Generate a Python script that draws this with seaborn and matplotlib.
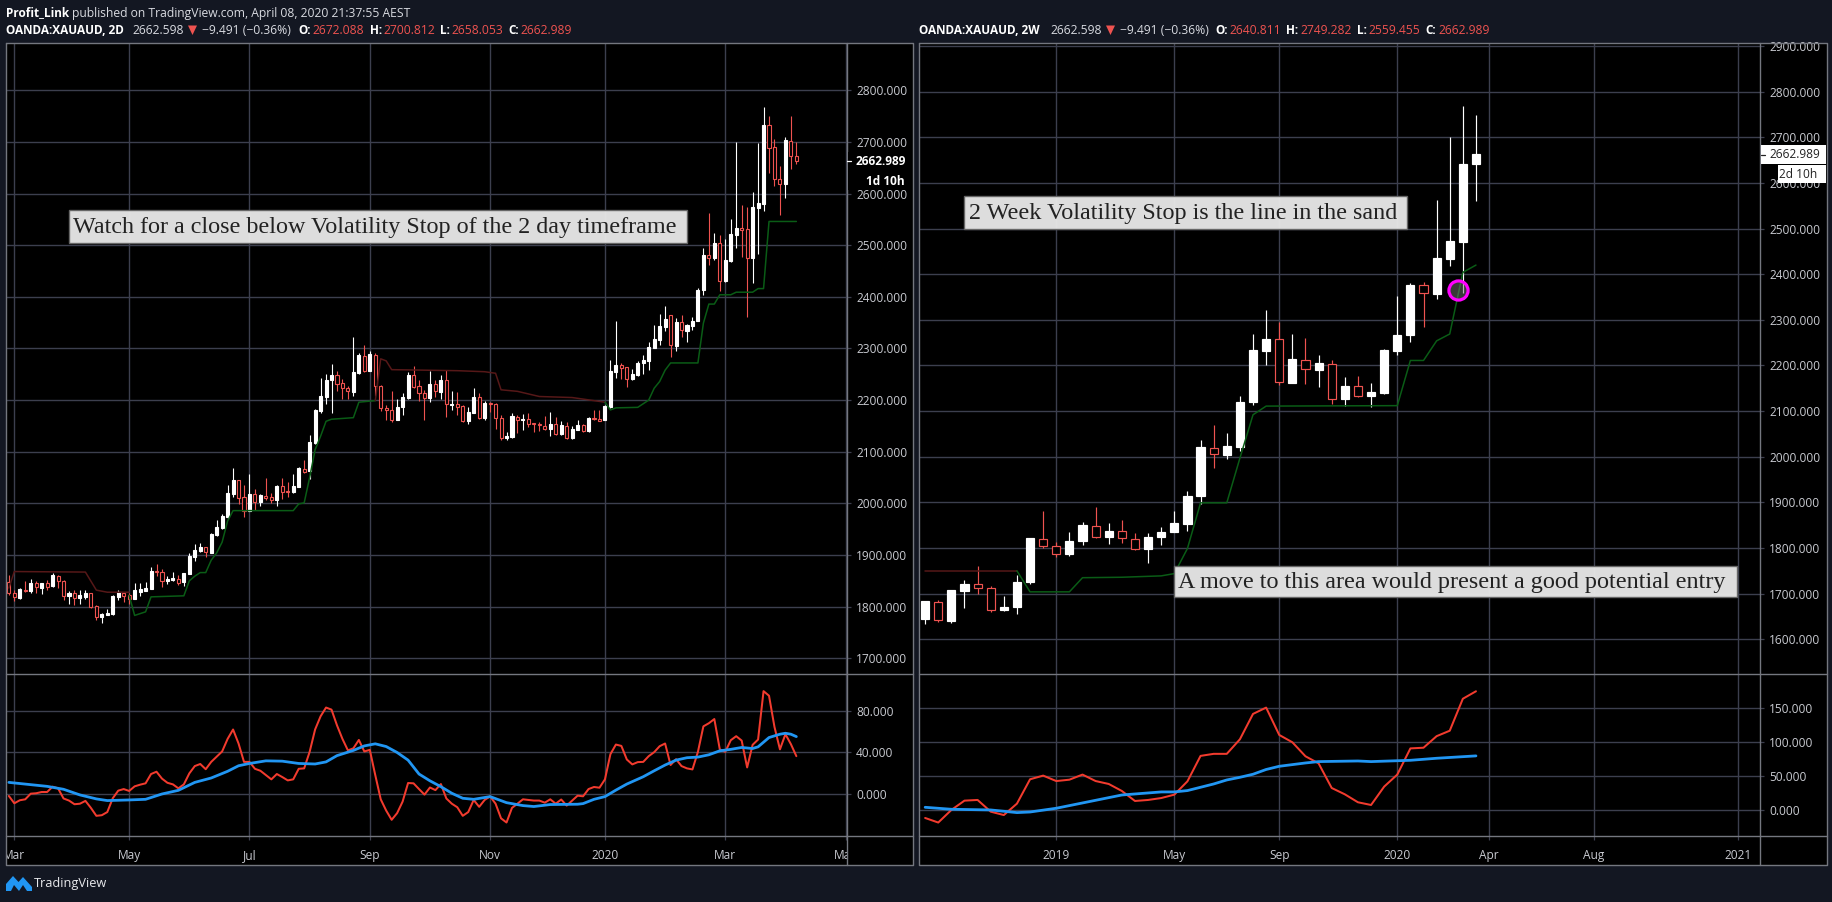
import matplotlib
matplotlib.use("Agg")
import matplotlib.pyplot as plt
import seaborn as sns
from matplotlib.lines import Line2D
from matplotlib.patches import Rectangle, Polygon
from matplotlib.transforms import Affine2D, Bbox

W, H = 1833, 902

BG = "#131722"
GRID = "#3c3f4e"
BORDER = "#74777f"
AXIS_TEXT = "#c8cad0"
RED = "#ef5350"
WHITE = "#ffffff"
STOP_UP = "#0a5c16"
STOP_DOWN = "#561818"
OSC_RED = "#f23b2e"
OSC_BLUE = "#2196f3"

# 2D candles
d_open = [1848, 1827, 1817, 1832, 1830, 1846, 1837, 1845, 1840, 1860, 1850, 1821, 1827, 1817, 1819, 1826, 1801, 1780, 1784, 1785,
          1819, 1826, 1822, 1814, 1829, 1831, 1835, 1869, 1868, 1849, 1851, 1854, 1848, 1863, 1897, 1908, 1915, 1904, 1939, 1953,
          1974, 2018, 2045, 2012, 1986, 2018, 2003, 2015, 2012, 2006, 2034, 2024, 2022, 2032, 2067, 2062, 2117, 2179, 2207, 2238,
          2248, 2233, 2223, 2215, 2252, 2286, 2257, 2288, 2228, 2185, 2181, 2162, 2186, 2205, 2248, 2228, 2213, 2205, 2232, 2216,
          2238, 2191, 2192, 2188, 2159, 2175, 2206, 2165, 2195, 2193, 2165, 2126, 2128, 2168, 2162, 2163, 2155, 2154, 2150, 2145,
          2154, 2134, 2150, 2126, 2143, 2152, 2141, 2165, 2163, 2161, 2186, 2254, 2268, 2264, 2240, 2249, 2271, 2276, 2301, 2316,
          2342, 2364, 2305, 2352, 2333, 2344, 2353, 2413, 2481, 2475, 2504, 2430, 2470, 2519, 2533, 2532, 2476, 2572, 2580, 2732,
          2690, 2629, 2618, 2702, 2672.088]
d_high = [1861, 1832, 1837, 1850, 1854, 1850, 1846, 1852, 1865, 1862, 1852, 1830, 1833, 1833, 1832, 1827, 1803, 1787, 1795, 1822,
          1832, 1828, 1826, 1846, 1845, 1847, 1876, 1883, 1873, 1859, 1868, 1861, 1866, 1903, 1921, 1923, 1915, 1942, 1968, 1979,
          2036, 2068, 2045, 2035, 2057, 2028, 2019, 2050, 2021, 2035, 2050, 2041, 2057, 2070, 2084, 2133, 2183, 2243, 2251, 2270,
          2257, 2241, 2228, 2322, 2292, 2306, 2295, 2292, 2230, 2190, 2218, 2203, 2214, 2255, 2267, 2239, 2219, 2256, 2239, 2248,
          2259, 2218, 2216, 2191, 2186, 2223, 2214, 2199, 2196, 2195, 2172, 2139, 2176, 2172, 2174, 2175, 2155, 2157, 2170, 2177,
          2167, 2159, 2157, 2149, 2161, 2154, 2167, 2181, 2181, 2191, 2277, 2353, 2271, 2265, 2260, 2276, 2288, 2312, 2346, 2366,
          2382, 2365, 2360, 2365, 2347, 2361, 2417, 2494, 2562, 2523, 2520, 2512, 2550, 2700, 2577, 2574, 2604, 2697, 2767, 2750,
          2705, 2653, 2710, 2750, 2700.812]
d_low = [1822, 1811, 1815, 1828, 1826, 1826, 1825, 1832, 1838, 1837, 1812, 1805, 1803, 1805, 1815, 1797, 1775, 1768, 1783, 1783,
         1812, 1810, 1806, 1814, 1821, 1830, 1835, 1859, 1839, 1844, 1850, 1841, 1840, 1863, 1889, 1905, 1897, 1904, 1937, 1951,
         1970, 2013, 1999, 1974, 1986, 1987, 1994, 2006, 2001, 1995, 2008, 2012, 2021, 2032, 2059, 2048, 2115, 2176, 2193, 2176,
         2218, 2203, 2203, 2208, 2250, 2255, 2257, 2208, 2178, 2161, 2158, 2162, 2172, 2203, 2223, 2199, 2162, 2197, 2206, 2203,
         2168, 2181, 2172, 2157, 2154, 2175, 2163, 2161, 2177, 2145, 2123, 2123, 2126, 2136, 2143, 2148, 2139, 2141, 2143, 2131,
         2133, 2132, 2125, 2125, 2143, 2138, 2139, 2162, 2159, 2161, 2185, 2243, 2240, 2225, 2239, 2246, 2251, 2259, 2301, 2306,
         2334, 2284, 2295, 2323, 2313, 2336, 2353, 2403, 2462, 2472, 2411, 2429, 2467, 2494, 2477, 2361, 2426, 2483, 2567, 2640,
         2615, 2559, 2591, 2648, 2658.053]
d_close = [1826, 1819, 1834, 1830, 1846, 1838, 1845, 1839, 1861, 1850, 1821, 1827, 1817, 1822, 1826, 1799, 1780, 1785, 1787, 1820,
           1828, 1820, 1815, 1832, 1834, 1837, 1869, 1867, 1850, 1853, 1855, 1846, 1865, 1899, 1910, 1916, 1906, 1941, 1955, 1976,
           2021, 2045, 2011, 1986, 2018, 2003, 2016, 2010, 2006, 2034, 2023, 2022, 2034, 2068, 2060, 2119, 2181, 2208, 2239, 2249,
           2232, 2223, 2217, 2254, 2287, 2256, 2289, 2228, 2184, 2180, 2162, 2187, 2206, 2248, 2226, 2213, 2205, 2232, 2217, 2239,
           2192, 2193, 2186, 2159, 2177, 2206, 2165, 2195, 2193, 2165, 2126, 2130, 2170, 2161, 2164, 2154, 2153, 2152, 2145, 2154,
           2134, 2151, 2126, 2144, 2152, 2141, 2166, 2163, 2159, 2188, 2257, 2268, 2263, 2240, 2251, 2271, 2278, 2303, 2318, 2343,
           2357, 2306, 2352, 2335, 2345, 2353, 2414, 2481, 2476, 2504, 2430, 2472, 2522, 2533, 2530, 2476, 2574, 2581, 2733, 2688,
           2628, 2618, 2703, 2673, 2662.989]

d_stop_dn1_x = [0, 1, 14, 16, 18, 22]
d_stop_dn1_y = [1836, 1868, 1867, 1832, 1828, 1828]
d_stop_up1_x = [22, 23, 25, 26, 32, 33, 34, 35, 36, 37, 38, 39, 40, 41, 52, 53, 54, 55, 56, 57, 58, 59, 63, 64, 67]
d_stop_up1_y = [1822, 1783, 1790, 1819, 1821, 1850, 1859, 1866, 1866, 1890, 1904, 1925, 1966, 1986, 1986, 1999, 2001, 2050, 2104,
                2130, 2159, 2163, 2166, 2196, 2199]
d_stop_dn2_x = [67, 68, 69, 70, 82, 87, 89, 90, 93, 97, 103, 109]
d_stop_dn2_y = [2199, 2280, 2276, 2259, 2257, 2255, 2252, 2220, 2217, 2207, 2205, 2196]
d_stop_up2_x = [109, 110, 111, 115, 117, 118, 119, 120, 121, 126, 127, 128, 129, 130, 132, 133, 136, 137, 138, 139, 144]
d_stop_up2_y = [2196, 2181, 2185, 2186, 2200, 2223, 2236, 2258, 2272, 2272, 2349, 2386, 2386, 2404, 2404, 2409, 2409, 2416, 2416,
                2546, 2546]

d_osc = [-1.6, -8.6, -5.7, -4.8, 0.6, 1, 2.2, 2.2, 7.3, 5.7, -4, -6, -9.5, -9, -6.3, -13, -20.6, -20, -17, -3.8,
         3.5, 5, 3.2, 7.6, 9.2, 10.5, 19.4, 21.6, 15, 11, 9.5, 5.7, 9.5, 20, 27, 29, 24, 31, 36, 41,
         53, 62, 48.6, 31, 31, 24.4, 22.5, 18.4, 14.3, 19.4, 16.5, 13.3, 14.3, 24.4, 24.8, 40.6, 62, 74.6, 83, 81,
         66, 53, 42, 44, 52, 41, 42.5, 18.4, -4.8, -15.6, -24.4, -18, -7, 10.8, 10.5, 5, -0.3, 6.5, 4, 9.8,
         -4, -9, -12.4, -20.6, -17, -5.4, -12, -5.4, -2, -9, -23, -27, -13, -9, -4.8, -5.4, -6, -6, -8, -4.8,
         -9, -5, -10.8, -6, -1.3, -1.9, 5, 7, 6.3, 14.3, 38.4, 47.6, 46.3, 33.3, 28.6, 30.8, 31, 36.5, 40.3, 46,
         48.6, 28, 33.6, 27, 24.8, 23.8, 40.6, 65, 68, 72, 43, 40.6, 51.7, 55.6, 51.4, 25.7, 47.3, 52.4, 98.7, 94.3,
         64.4, 43, 57.5, 48, 36.5]
d_sig_x = [0, 7, 10, 13, 16, 18, 22, 25, 28, 31, 34, 37, 40, 42, 44, 47, 50, 53, 56, 58, 60, 63, 65, 67, 69, 71, 73, 75, 77, 79,
           81, 83, 85, 88, 91, 94, 96, 99, 104, 105, 107, 109, 111, 113, 116, 118, 120, 122, 124, 126, 128, 130, 132, 134, 136,
           137, 139, 141, 142, 143, 144]
d_sig_y = [11.4, 7.6, 4.8, -0.6, -4.4, -6, -5.4, -4.8, 0.3, 3.8, 11.4, 15.6, 22, 27.3, 29.5, 32, 31.7, 29.5, 29, 31, 37, 42, 46.3,
           48.3, 45.7, 40, 32.7, 19.4, 12.9, 7.3, 1, -3.8, -4.8, -2.2, -8, -10.8, -11.7, -9.8, -9.5, -8.9, -4.8, -2.2, 4, 9.8,
           16.8, 22.5, 28, 32.7, 35, 35.6, 37.8, 41.6, 43, 44.8, 43.8, 45.4, 54.3, 57.5, 58.4, 57.5, 55.2]

d_tick_idx = [1, 22, 44, 66, 88, 109, 131, 153]
d_tick_labels = ["Mar", "May", "Jul", "Sep", "Nov", "2020", "Mar", "May"]
d_price_ticks = [1700, 1800, 1900, 2000, 2100, 2200, 2300, 2400, 2500, 2600, 2700, 2800]
d_osc_ticks = [0, 40, 80]

# 2W candles
w_open = [1644, 1682, 1641, 1706, 1721, 1713, 1664, 1671, 1726, 1820, 1805, 1787, 1816, 1849, 1824, 1838, 1820, 1798, 1824, 1835,
          1853, 1914, 2020, 2004, 2022, 2119, 2232, 2257, 2162, 2213, 2190, 2204, 2127, 2155, 2133, 2139, 2231, 2266, 2377, 2357,
          2434, 2471, 2640.811]
w_high = [1685, 1687, 1707, 1731, 1761, 1716, 1696, 1740, 1821, 1881, 1814, 1835, 1856, 1890, 1854, 1862, 1832, 1832, 1845, 1881,
          1924, 2036, 2069, 2051, 2133, 2270, 2322, 2296, 2270, 2261, 2223, 2212, 2174, 2177, 2161, 2237, 2352, 2380, 2382, 2563,
          2701, 2768, 2749.282]
w_low = [1633, 1638, 1636, 1669, 1699, 1660, 1663, 1655, 1721, 1800, 1780, 1783, 1807, 1822, 1809, 1811, 1796, 1767, 1807, 1835,
         1838, 1896, 1976, 1994, 2013, 2114, 2201, 2158, 2162, 2160, 2153, 2116, 2111, 2132, 2108, 2138, 2223, 2251, 2284, 2346,
         2418, 2358, 2559.455]
w_close = [1683, 1643, 1707, 1722, 1713, 1664, 1671, 1726, 1821, 1805, 1787, 1816, 1850, 1825, 1838, 1821, 1798, 1825, 1836, 1854,
           1915, 2021, 2005, 2024, 2120, 2234, 2258, 2163, 2215, 2192, 2206, 2127, 2155, 2134, 2141, 2234, 2266, 2377, 2358, 2436,
           2473, 2642, 2662.989]

w_stop_dn_x = [0, 7]
w_stop_dn_y = [1750, 1750]
w_stop_up_x = [7, 8, 11, 12, 15, 18, 19, 20, 21, 23, 24, 25, 26, 36, 37, 38, 39, 40, 41, 42]
w_stop_up_y = [1750, 1704, 1704, 1735, 1736, 1739, 1744, 1799, 1899, 1899, 1997, 2092, 2111, 2112, 2211, 2211, 2254, 2269, 2404, 2420]

w_osc = [-11.3, -18, 0.5, 14.2, 15.2, -2, -7, 9.8, 45.6, 51, 43, 45, 52.5, 43, 38.7, 28.4, 13.7, 15.2, 18, 23,
         42.6, 80, 83, 83, 104.4, 141.7, 151, 110.8, 100, 79.4, 69, 32.8, 23.5, 11.8, 7.8, 34.8, 52.5, 91, 92, 109,
         117, 164, 175]
w_sig_x = [0, 2, 5, 7, 8, 10, 12, 15, 18, 19, 20, 22, 23, 24, 25, 26, 27, 29, 30, 33, 34, 37, 39, 42]
w_sig_y = [4.4, 1.5, 0.5, -3.4, -2.5, 3, 10.8, 22.5, 27, 27, 29, 38.7, 44.6, 48.5, 53, 60, 64.7, 69.6, 71.6, 72.5, 71.6, 73.5,
           76.5, 80]

w_tick_idx = [10, 19, 27, 36, 43, 51, 62]
w_tick_labels = ["2019", "May", "Sep", "2020", "Apr", "Aug", "2021"]
w_price_ticks = [1600, 1700, 1800, 1900, 2000, 2100, 2200, 2300, 2400, 2500, 2600, 2700, 2800, 2900]
w_osc_ticks = [0, 50, 100, 150]

AXIS_SIZE = 8.55


def draw_candles(ax, opens, highs, lows, closes, width, lw):
    for i in range(len(opens)):
        o, h, l, c = opens[i], highs[i], lows[i], closes[i]
        color = RED if c < o else WHITE
        ax.vlines(i, l, h, color=color, lw=lw, zorder=3)
        face = "black" if c < o else WHITE
        ax.bar(i, abs(c - o), bottom=min(o, c), width=width, facecolor=face, edgecolor=color, lw=lw, zorder=4)


def line(ax, xs, ys, color, lw, zorder=5):
    sns.lineplot(x=xs, y=ys, ax=ax, color=color, lw=lw, estimator=None, sort=False, legend=False, zorder=zorder)


def style_axes(ax, xlim, ylim, xticks, yticks):
    ax.set_facecolor("black")
    ax.set_xlim(*xlim)
    ax.set_ylim(*ylim)
    ax.set_xticks(xticks)
    ax.set_yticks(yticks)
    ax.set_yticklabels([f"{v:.3f}" for v in yticks])
    ax.grid(True, color=GRID, lw=1.0)
    ax.set_axisbelow(True)
    ax.tick_params(axis="y", left=False, labelleft=False, right=True, labelright=True,
                   length=3, width=0.9, color=GRID, pad=3.5, labelsize=AXIS_SIZE, labelcolor=AXIS_TEXT)
    ax.tick_params(axis="x", bottom=True, length=3, width=0.9, color=GRID, labelbottom=False)
    ax.set_xlabel("")
    ax.set_ylabel("")
    for spine in ax.spines.values():
        spine.set_visible(False)


sns.set_style("dark")
plt.rcParams["font.family"] = ["Open Sans", "DejaVu Sans"]

fig = plt.figure(figsize=(W / 100, H / 100), dpi=100, facecolor=BG)
px = Affine2D().scale(1 / W, -1 / H).translate(0, 1) + fig.transFigure


def px_axes(left, top, right, bottom):
    return fig.add_axes([left / W, 1 - bottom / H, (right - left) / W, (bottom - top) / H])


def px_rect(x0, y0, x1, y1, zorder=6, **kw):
    fig.add_artist(Rectangle((x0, y0), x1 - x0, y1 - y0, transform=px, zorder=zorder, **kw))


def px_line(xs, ys, color=BORDER, lw=1.0, zorder=7):
    fig.add_artist(Line2D(xs, ys, color=color, lw=lw, transform=px, zorder=zorder))


def px_text(x, y, s, zorder=9, **kw):
    kw.setdefault("va", "center")
    kw.setdefault("ha", "left")
    fig.text(x, y, s, transform=px, zorder=zorder, **kw)


# panel backgrounds
px_rect(6.5, 43, 913.5, 865, zorder=-2, facecolor="black", edgecolor="none")
px_rect(919.5, 43, 1827, 865, zorder=-2, facecolor="black", edgecolor="none")

# left chart
ax_d = px_axes(6.5, 43, 847, 674)
draw_candles(ax_d, d_open, d_high, d_low, d_close, 0.56, 0.8)
line(ax_d, d_stop_dn1_x, d_stop_dn1_y, STOP_DOWN, 1.1)
line(ax_d, d_stop_up1_x, d_stop_up1_y, STOP_UP, 1.1)
line(ax_d, d_stop_dn2_x, d_stop_dn2_y, STOP_DOWN, 1.1)
line(ax_d, d_stop_up2_x, d_stop_up2_y, STOP_UP, 1.1)
style_axes(ax_d, (-0.43, 153.26), (1669.6, 2891.6), d_tick_idx, d_price_ticks)

ax_d2 = px_axes(6.5, 674, 847, 836)
d_idx = list(range(len(d_osc)))
line(ax_d2, d_idx, d_osc, OSC_RED, 1.45)
line(ax_d2, d_sig_x, d_sig_y, OSC_BLUE, 2.0, zorder=6)
style_axes(ax_d2, (-0.43, 153.26), (-39.9, 115.1), d_tick_idx, d_osc_ticks)

# right chart
ax_w = px_axes(919.5, 43, 1760.3, 674)
draw_candles(ax_w, w_open, w_high, w_low, w_close, 0.62, 0.85)
line(ax_w, w_stop_dn_x, w_stop_dn_y, STOP_DOWN, 1.1)
line(ax_w, w_stop_up_x, w_stop_up_y, STOP_UP, 1.1)
style_axes(ax_w, (-0.43, 63.68), (1524, 2906.6), w_tick_idx, w_price_ticks)
ax_w.scatter([40.6], [2365], s=190, facecolor=(0.45, 0.45, 0.45, 0.5), edgecolor="#ff00ff", lw=2.3, zorder=8)

ax_w2 = px_axes(919.5, 674, 1760.3, 836)
w_idx = list(range(len(w_osc)))
line(ax_w2, w_idx, w_osc, OSC_RED, 1.45)
line(ax_w2, w_sig_x, w_sig_y, OSC_BLUE, 2.0, zorder=6)
style_axes(ax_w2, (-0.43, 63.68), (-37.8, 200.4), w_tick_idx, w_osc_ticks)

# time axis labels, clipped to the pane as on the chart
for ax, labels, x0, x1 in ((ax_d2, d_tick_labels, 6.5, 847), (ax_w2, w_tick_labels, 919.5, 1760.3)):
    ax.tick_params(axis="x", labelbottom=True, pad=6.5, labelsize=AXIS_SIZE, labelcolor=AXIS_TEXT)
    ax.set_xticklabels(labels)
    for lab in ax.get_xticklabels():
        lab.set_clip_box(Bbox([[x0, 0], [x1, H]]))
        lab.set_clip_on(True)

# frame lines
for x0, x1, xa in ((6.5, 913.5, 847), (919.5, 1827, 1760.3)):
    px_line([x0, x1, x1, x0, x0], [43, 43, 865, 865, 43], lw=1.0)
    px_line([x0, x1], [674, 674])
    px_line([x0, x1], [836, 836])
    px_line([xa, xa], [43, 865])

# last price tags, left
px_rect(847.6, 152, 912, 190, zorder=8, facecolor="black", edgecolor="none")
px_line([847, 851], [161.3, 161.3], color=WHITE, lw=0.9, zorder=9)
px_text(856, 161.3, "2662.989", color=WHITE, fontsize=AXIS_SIZE, fontweight="bold")
px_text(905, 181.7, "1d 10h", color=WHITE, fontsize=AXIS_SIZE, fontweight="bold", ha="right")

# last price tags, right
px_rect(1760.8, 145, 1826.5, 163.7, zorder=8, facecolor=WHITE, edgecolor="none")
px_rect(1778, 165, 1826.5, 183.3, zorder=8, facecolor=WHITE, edgecolor="none")
px_line([1760.8, 1765], [154.5, 154.5], color="#222222", lw=0.9, zorder=9)
px_text(1769, 154.5, "2662.989", color="#222222", fontsize=AXIS_SIZE)
px_text(1817.7, 174.2, "2d 10h", color="#222222", fontsize=AXIS_SIZE, ha="right")

# annotation boxes
boxes = [
    (69, 210, 686.6, 242.7, 73, "Watch for a close below Volatility Stop of the 2 day timeframe"),
    (964, 196.3, 1406.7, 228.7, 968.7, "2 Week Volatility Stop is the line in the sand"),
    (1174.3, 565.7, 1737, 597.3, 1178, "A move to this area would present a good potential entry"),
]
for x0, y0, x1, y1, tx, label in boxes:
    px_rect(x0, y0, x1, y1, zorder=8, facecolor="#e6e6e6", edgecolor="#666666", lw=1.0, alpha=0.97)
    px_text(tx, (y0 + y1) / 2 + 1, label, family="Liberation Serif", fontsize=17.35, color="#222222")

# header
HEAD = 8.75
HEAD_BOLD = 8.5
px_text(6, 13, "Profit_Link", color=WHITE, fontsize=HEAD_BOLD, fontweight="bold")
px_text(72, 13, "published on TradingView.com, April 08, 2020 21:37:55 AEST", color="#d8dae0", fontsize=HEAD)

headers = [
    (6, "OANDA:XAUAUD, 2D", 132.6, 188, 202, 298, 312, "2672.088", 370, 383, "2700.812", 440, 451, "2658.053", 508, 520, "2662.989"),
    (919, "OANDA:XAUAUD, 2W", 1050, 1106, 1120, 1215, 1229, "2640.811", 1286, 1300, "2749.282", 1357, 1368, "2559.455", 1425, 1438, "2662.989"),
]
for h in headers:
    px_text(h[0], 30, h[1], color=WHITE, fontsize=HEAD_BOLD, fontweight="bold")
    px_text(h[2], 30, "2662.598", color="#d8dae0", fontsize=HEAD)
    tx = h[3]
    fig.add_artist(Polygon([(tx, 25.5), (tx + 9, 25.5), (tx + 4.5, 35)], closed=True, transform=px, facecolor=RED, edgecolor="none", zorder=9))
    px_text(h[4], 30, "\u22129.491 (\u22120.36%)", color="#d8dae0", fontsize=HEAD)
    px_text(h[5], 30, "O:", color=WHITE, fontsize=HEAD_BOLD, fontweight="bold")
    px_text(h[6], 30, h[7], color=RED, fontsize=HEAD)
    px_text(h[8], 30, "H:", color=WHITE, fontsize=HEAD_BOLD, fontweight="bold")
    px_text(h[9], 30, h[10], color=RED, fontsize=HEAD)
    px_text(h[11], 30, "L:", color=WHITE, fontsize=HEAD_BOLD, fontweight="bold")
    px_text(h[12], 30, h[13], color=RED, fontsize=HEAD)
    px_text(h[14], 30, "C:", color=WHITE, fontsize=HEAD_BOLD, fontweight="bold")
    px_text(h[15], 30, h[16], color=RED, fontsize=HEAD)

# logo
fig.add_artist(Polygon([(6, 891), (6, 884), (13, 876), (18.5, 882), (23, 877), (32, 887), (32, 891), (27, 891), (23, 885), (19, 891), (14, 885), (11, 891)],
                       closed=True, transform=px, facecolor=OSC_BLUE, edgecolor="none", zorder=9))
px_text(34, 883, "TradingView", color="#e8e9ec", fontsize=9.2)

fig.savefig("out.png", dpi=100, facecolor=BG)
